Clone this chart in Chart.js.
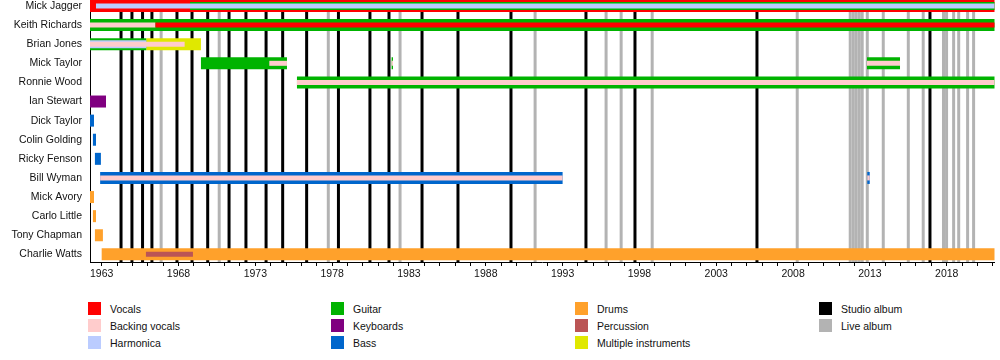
<!DOCTYPE html>
<html>
<head>
<meta charset="utf-8">
<script src="https://cdn.jsdelivr.net/npm/chart.js@4.4.1/dist/chart.umd.min.js"></script>
<style>
  body { margin: 0; background: #fff; font-family: "Liberation Sans", Arial, sans-serif; }
  #wrap { position: relative; width: 1000px; height: 360px; }
  #chart { position: absolute; left: 0; top: 0; }
  .lg-box { position: absolute; width: 13px; height: 13px; }
  .lg-text { position: absolute; font-size: 10.5px; line-height: 13px; color: #111; white-space: nowrap; }
</style>
</head>
<body>
<div id="wrap">
  <canvas id="chart" width="1000" height="282"></canvas>
  <div id="legend"></div>
</div>
<script>
const members = ['Mick Jagger', 'Keith Richards', 'Brian Jones', 'Mick Taylor', 'Ronnie Wood', 'Ian Stewart',
  'Dick Taylor', 'Colin Golding', 'Ricky Fenson', 'Bill Wyman', 'Mick Avory', 'Carlo Little', 'Tony Chapman', 'Charlie Watts'];

const START = 1962.24;
const END = 2021.11;

// [member, from, till]
const vocals = [['Mick Jagger', START, END]];
const vocalsInner = [['Keith Richards', 1966.5, END]];
const backingVocals = [['Keith Richards', START, 1966.5], ['Brian Jones', START, 1968.4],
  ['Mick Taylor', 1973.91, 1975.06], ['Mick Taylor', 1981.87, 1981.96], ['Mick Taylor', 2012.81, 2014.96],
  ['Ronnie Wood', 1975.71, END], ['Bill Wyman', 1962.9, 1993.0], ['Bill Wyman', 2012.83, 2012.99]];
const harmonica = [['Mick Jagger', 1962.63, END]];
const harmonicaMid = [['Brian Jones', START, 1965.9]];
const guitar = [['Keith Richards', START, END], ['Brian Jones', START, 1965.9],
  ['Mick Taylor', 1969.46, 1975.06], ['Mick Taylor', 1981.87, 1981.96], ['Mick Taylor', 2012.81, 2014.96],
  ['Ronnie Wood', 1975.71, END]];
const guitarMid = [['Mick Jagger', 1968.75, END]];
const keyboards = [['Ian Stewart', START, 1963.28]];
const bass = [['Dick Taylor', START, 1962.5], ['Colin Golding', 1962.43, 1962.63], ['Ricky Fenson', 1962.56, 1962.95],
  ['Bill Wyman', 1962.9, 1993.0], ['Bill Wyman', 2012.83, 2012.99]];
const drums = [['Mick Avory', START, 1962.5], ['Carlo Little', 1962.43, 1962.63], ['Tony Chapman', 1962.56, 1963.08],
  ['Charlie Watts', 1963.0, END]];
const percussion = [['Charlie Watts', 1965.88, 1968.94]];
const multiInstruments = [['Brian Jones', 1965.9, 1969.46]];

const studioAlbums = [1964.26, 1964.97, 1965.66, 1966.27, 1967.9, 1968.88, 1969.9, 1971.29, 1972.39, 1973.7,
  1974.78, 1976.34, 1978.41, 1980.46, 1981.7, 1983.85, 1986.19, 1989.64, 1994.52, 1997.71, 2005.65, 2016.91];
const liveAlbums = [1966.87, 1970.65, 1977.75, 1982.42, 1991.21, 1995.83, 1996.81, 1998.83, 2008.27,
  2011.72, 2011.92, 2012.11, 2012.31, 2012.5, 2012.83, 2013.87, 2015.5, 2016.47,
  2017.79, 2017.99, 2018.45, 2018.78, 2019.36, 2019.75];

const yearLabels = [1963, 1968, 1973, 1978, 1983, 1988, 1993, 1998, 2003, 2008, 2013, 2018];

const colors = {
  vocals: '#ff0000', backing: '#ffcccc', harmonica: '#bbccff', guitar: '#00b300',
  keyboards: '#800080', bass: '#0066cc', drums: '#ffa12b', percussion: '#bb5555',
  multi: '#e0e800', studio: '#000000', live: '#b3b3b3'
};

const legendItems = [
  ['Vocals', colors.vocals], ['Backing vocals', colors.backing], ['Harmonica', colors.harmonica],
  ['Guitar', colors.guitar], ['Keyboards', colors.keyboards], ['Bass', colors.bass],
  ['Drums', colors.drums], ['Percussion', colors.percussion], ['Multiple instruments', colors.multi],
  ['Studio album', colors.studio], ['Live album', colors.live]
];

const FONT = { family: '"Liberation Sans", Arial, sans-serif', size: 10.5 };

function layer(label, segs, color, thickness, order) {
  return {
    label: label,
    data: segs.map(s => ({ x: [s[1], s[2]], y: members.indexOf(s[0]) })),
    backgroundColor: color,
    borderWidth: 0,
    borderSkipped: false,
    inflateAmount: 0,
    barThickness: thickness,
    grouped: false,
    clip: false,
    order: order
  };
}

const datasets = [
  layer('Vocals', vocals, colors.vocals, 12, 3),
  layer('Guitar', guitar, colors.guitar, 12, 3),
  layer('Keyboards', keyboards, colors.keyboards, 12, 3),
  layer('Bass', bass, colors.bass, 12, 3),
  layer('Drums', drums, colors.drums, 12, 3),
  layer('Multiple instruments', multiInstruments, colors.multi, 12, 3),
  layer('Guitar', guitarMid, colors.guitar, 8, 2),
  layer('Harmonica', harmonicaMid, colors.harmonica, 8, 2),
  layer('Harmonica', harmonica, colors.harmonica, 5, 1),
  layer('Vocals', vocalsInner, colors.vocals, 5, 1),
  layer('Backing vocals', backingVocals, colors.backing, 5, 1),
  layer('Percussion', percussion, colors.percussion, 5, 1)
];

// vertical album markers, placed with the x scale
const albumLines = {
  id: 'albumLines',
  beforeDatasetsDraw(chart) {
    const { ctx, chartArea, scales } = chart;
    ctx.save();
    ctx.lineWidth = 3;
    [[liveAlbums, colors.live], [studioAlbums, colors.studio]].forEach(([list, col]) => {
      ctx.strokeStyle = col;
      list.forEach(yr => {
        const px = scales.x.getPixelForValue(yr);
        ctx.beginPath();
        ctx.moveTo(px, chartArea.top);
        ctx.lineTo(px, chartArea.bottom);
        ctx.stroke();
      });
    });
    ctx.restore();
  }
};

new Chart(document.getElementById('chart'), {
  type: 'bar',
  data: { datasets: datasets },
  options: {
    indexAxis: 'y',
    responsive: false,
    animation: false,
    layout: { padding: { left: 0, right: 5.5, top: 0, bottom: 0 } },
    plugins: { legend: { display: false }, tooltip: { enabled: false } },
    scales: {
      x: {
        type: 'linear',
        min: START,
        max: END,
        afterBuildTicks: s => {
          const t = [];
          for (let y = 1963; y <= 2021; y++) t.push({ value: y });
          s.ticks = t;
        },
        afterFit: s => { s.height = 20; s.paddingLeft = 0; s.paddingRight = 0; },
        ticks: {
          callback: v => yearLabels.includes(v) ? String(v) : '',
          autoSkip: false, maxRotation: 0, minRotation: 0,
          font: FONT, color: '#111', padding: 2
        },
        grid: { drawOnChartArea: false, drawTicks: true, tickLength: 4, color: '#000', lineWidth: 1 },
        border: { display: true, color: '#000', width: 1 }
      },
      y: {
        type: 'linear',
        reverse: true,
        offset: false,
        min: -0.314,
        max: 13.40,
        afterBuildTicks: s => { s.ticks = members.map((m, i) => ({ value: i })); },
        afterFit: s => { s.width = 90; s.paddingTop = 0; s.paddingBottom = 0; },
        ticks: {
          callback: v => members[v],
          autoSkip: false, font: FONT, color: '#111', padding: 8
        },
        grid: { display: false, drawTicks: false },
        border: { display: true, color: '#000', width: 1 }
      }
    }
  },
  plugins: [albumLines]
});

// legend below the plot, filled column by column
const legend = document.getElementById('legend');
const colX = [88, 331, 575, 819];
const rowY = [302, 319, 336];
legendItems.forEach(([name, col], i) => {
  const x = colX[Math.floor(i / 3)];
  const y = rowY[i % 3];
  const box = document.createElement('div');
  box.className = 'lg-box';
  box.style.left = x + 'px';
  box.style.top = y + 'px';
  box.style.background = col;
  const txt = document.createElement('div');
  txt.className = 'lg-text';
  txt.style.left = (x + 22) + 'px';
  txt.style.top = (y + 1) + 'px';
  txt.textContent = name;
  legend.appendChild(box);
  legend.appendChild(txt);
});
</script>
</body>
</html>
